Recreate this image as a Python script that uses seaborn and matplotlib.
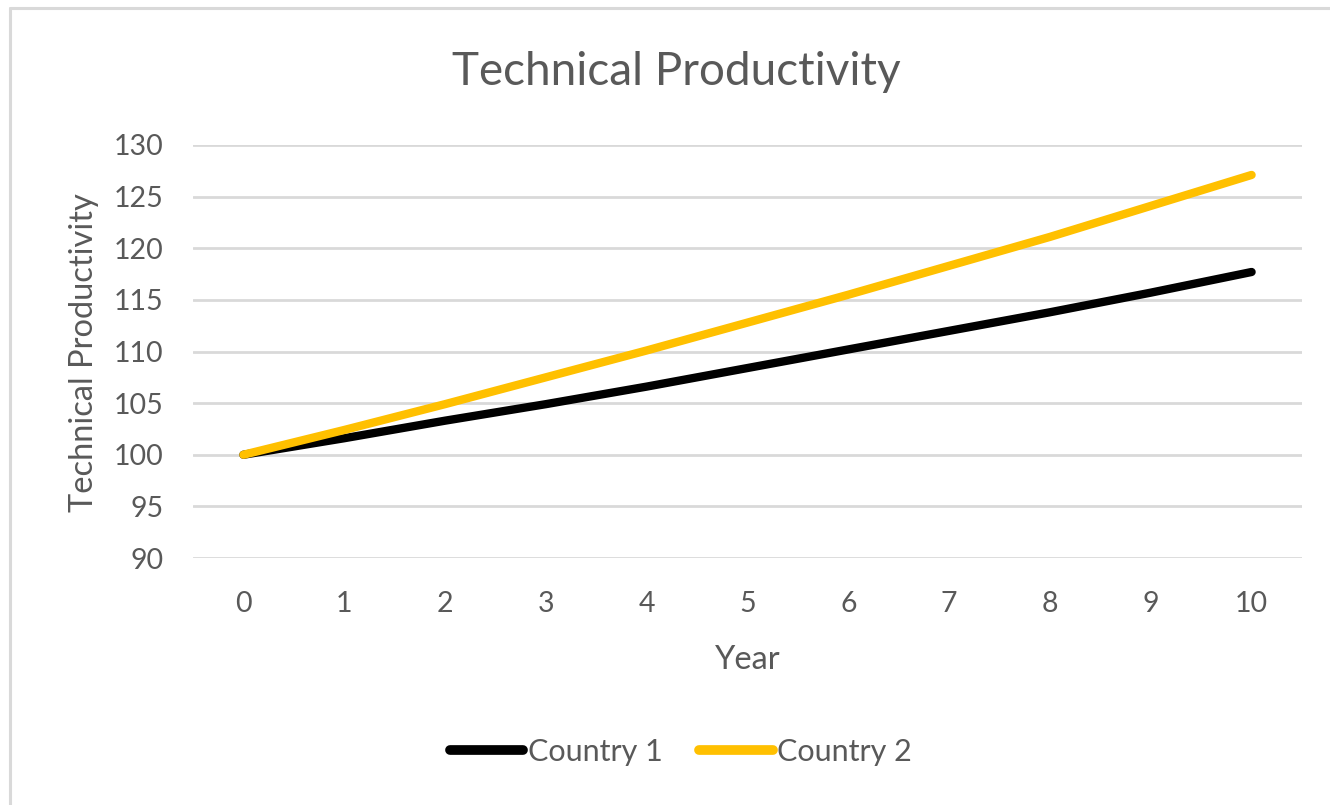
import numpy as np
import pandas as pd
import matplotlib
matplotlib.use("Agg")
import matplotlib.pyplot as plt
import seaborn as sns
from matplotlib.lines import Line2D

# Data
years = [0, 1, 2, 3, 4, 5, 6, 7, 8, 9, 10]
country1 = [100.0, 101.6, 103.3, 104.9, 106.6, 108.4, 110.2, 112.0, 113.8, 115.7, 117.7]
country2 = [100.0, 102.4, 104.9, 107.5, 110.1, 112.8, 115.5, 118.3, 121.1, 124.1, 127.1]
series_names = ["Country 1", "Country 2"]
y_ticks = [90, 95, 100, 105, 110, 115, 120, 125, 130]

df = pd.DataFrame({
    "Year": years * 2,
    "Value": country1 + country2,
    "Series": [series_names[0]] * len(years) + [series_names[1]] * len(years),
})

sns.set_theme(style="white")
plt.rcParams["font.family"] = ["Lato", "DejaVu Sans"]

text_color = "#595959"
grid_color = "#d9d9d9"
palette = {"Country 1": "#000000", "Country 2": "#FFC000"}

fig = plt.figure(figsize=(13.3, 8.05), dpi=100)
ax = fig.add_axes([193 / 1330, 1 - 558 / 805, (1302 - 193) / 1330, (558 - 145) / 805])

sns.lineplot(data=df, x="Year", y="Value", hue="Series", palette=palette,
             linewidth=6, ax=ax, legend=False, sort=False)
for ln in ax.lines:
    ln.set_solid_capstyle("round")
    ln.set_solid_joinstyle("round")

ax.set_xlim(-0.5, 10.5)
ax.set_ylim(90, 130)
ax.set_yticks(y_ticks)
ax.set_xticks(years)
ax.set_xticklabels([str(y) for y in years])
ax.yaxis.grid(True, color=grid_color, linewidth=2)
ax.xaxis.grid(False)
ax.set_axisbelow(True)
for s in ax.spines.values():
    s.set_visible(False)
ax.tick_params(axis="both", length=0, labelsize=20.5, labelcolor=text_color)
ax.tick_params(axis="y", pad=21)
ax.tick_params(axis="x", pad=24)

ax.set_xlabel("Year", fontsize=23.5, color=text_color, labelpad=20)
ax.set_ylabel("Technical Productivity", fontsize=23.5, color=text_color)
ax.yaxis.set_label_coords((99 - 193) / 1109, 0.5 - (353 - 351.5) / 413)

fig.text(676 / 1330, 1 - 72 / 805, "Technical Productivity", ha="center", va="center",
         fontsize=33, color=text_color)

handles = [Line2D([0], [0], color=palette[n], linewidth=7, solid_capstyle="round")
           for n in series_names]
fig.legend(handles, series_names, loc="center", bbox_to_anchor=(681 / 1330, 1 - 752 / 805),
           ncol=2, frameon=False, fontsize=22, labelcolor=text_color,
           handlelength=2.4, handletextpad=0.15, columnspacing=1.2)

# Chart area border (top and left edges)
fig.add_artist(Line2D([10 / 1330, 10 / 1330], [0, 1 - 8 / 805], transform=fig.transFigure,
                      color=grid_color, linewidth=2.2))
fig.add_artist(Line2D([10 / 1330, 1], [1 - 8 / 805, 1 - 8 / 805], transform=fig.transFigure,
                      color=grid_color, linewidth=2.2))

fig.savefig("out.png", dpi=100, facecolor="white")
